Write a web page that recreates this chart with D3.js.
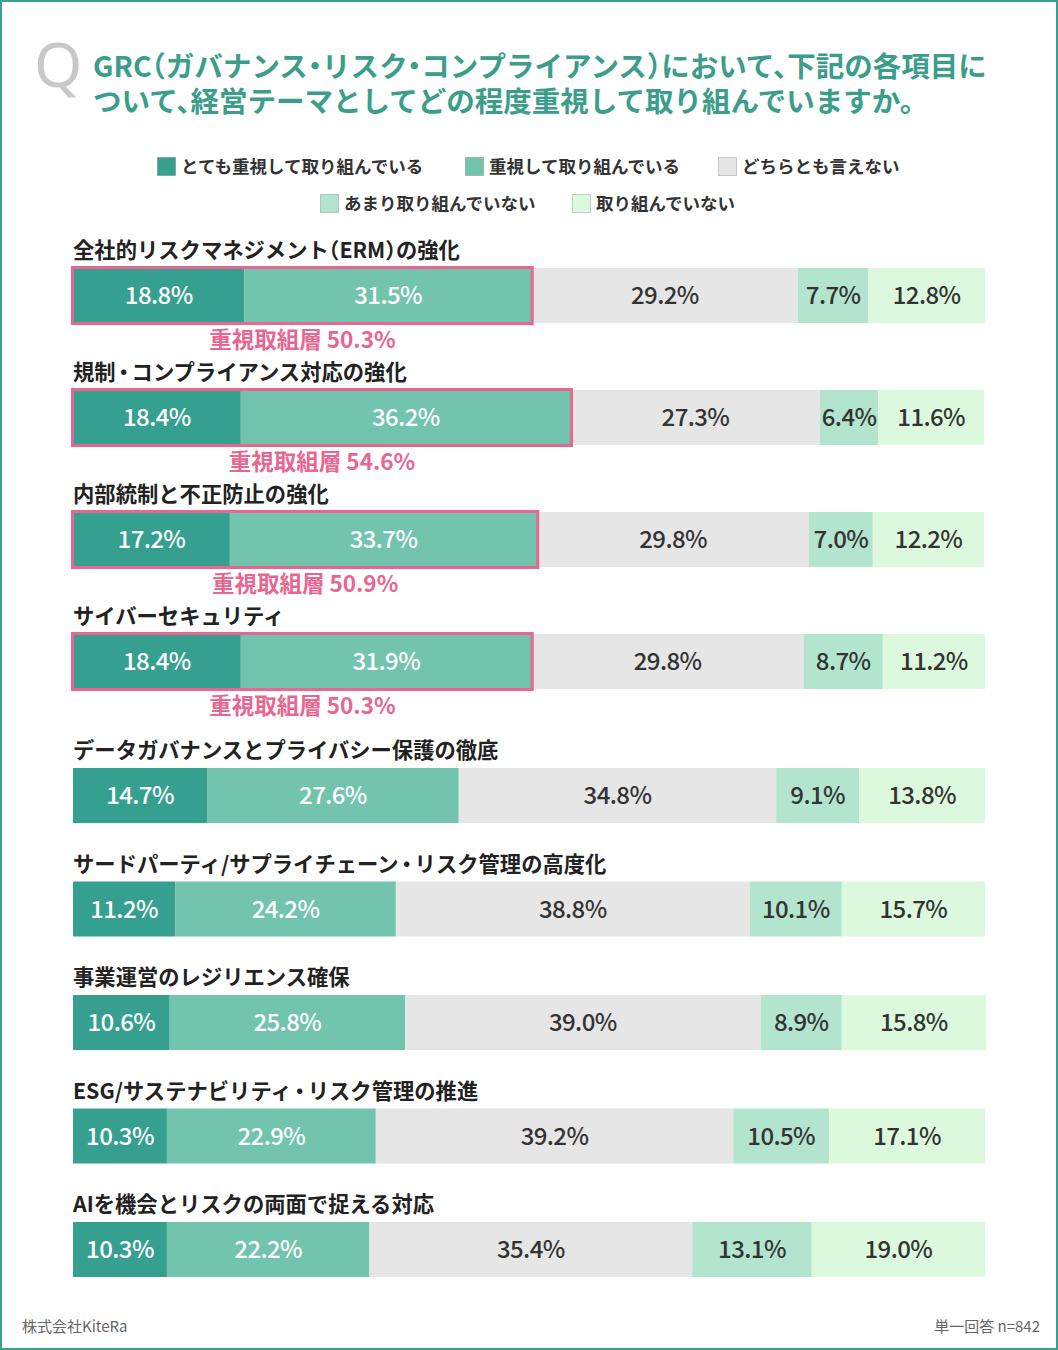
<!DOCTYPE html>
<html><head><meta charset="utf-8">
<script src="https://cdn.jsdelivr.net/npm/d3@7"></script>
<style>
html,body{margin:0;padding:0;background:#fff;}
svg{display:block;}
</style></head>
<body>
<svg id="chart" width="1058" height="1350"></svg>
<script>
const titleLines = ["GRC（ガバナンス・リスク・コンプライアンス）において、下記の各項目に","ついて、経営テーマとしてどの程度重視して取り組んでいますか。"];
const seriesNames = ["とても重視して取り組んでいる","重視して取り組んでいる","どちらとも言えない","あまり取り組んでいない","取り組んでいない"];
const categories = [
 "全社的リスクマネジメント（ERM）の強化",
 "規制・コンプライアンス対応の強化",
 "内部統制と不正防止の強化",
 "サイバーセキュリティ",
 "データガバナンスとプライバシー保護の徹底",
 "サードパーティ/サプライチェーン・リスク管理の高度化",
 "事業運営のレジリエンス確保",
 "ESG/サステナビリティ・リスク管理の推進",
 "AIを機会とリスクの両面で捉える対応"
];
const veryImportant = [18.8,18.4,17.2,18.4,14.7,11.2,10.6,10.3,10.3];
const important     = [31.5,36.2,33.7,31.9,27.6,24.2,25.8,22.9,22.2];
const neutral       = [29.2,27.3,29.8,29.8,34.8,38.8,39.0,39.2,35.4];
const notMuch       = [7.7,6.4,7.0,8.7,9.1,10.1,8.9,10.5,13.1];
const notAtAll      = [12.8,11.6,12.2,11.2,13.8,15.7,15.8,17.1,19.0];
const highlightTotals = [50.3,54.6,50.9,50.3,null,null,null,null,null];
const highlightLabel = "重視取組層";
const footerLeft = "株式会社KiteRa";
const footerRight = "単一回答 n=842";

const series = [veryImportant, important, neutral, notMuch, notAtAll];
const colors = ["#35a08f","#72c4ad","#e6e6e6","#b3e4cd","#dcf9dd"];
const textColors = ["#ffffff","#ffffff","#333333","#333333","#333333"];
const JP = "'Noto Sans CJK JP','Noto Sans',sans-serif";

// proportional spacing for full-width punctuation, done with per-character dx (no tspans)
function punctDx(str, size, dotTrim){
  const chars = Array.from(str);
  const dx = chars.map(()=>0);
  chars.forEach((ch,i)=>{
    if(ch==="（") dx[i] -= 0.5*size;
    if(ch==="・"){ dx[i] -= dotTrim/2*size; if(i+1<dx.length) dx[i+1] -= dotTrim/2*size; }
    if("）、。".includes(ch) && i+1<dx.length) dx[i+1] -= 0.5*size;
  });
  return dx.map(v=>v.toFixed(2)).join(" ");
}

const svg = d3.select("#chart");
// frame
svg.append("rect").attr("x",1).attr("y",1).attr("width",1056).attr("height",1348)
  .attr("fill","#fff").attr("stroke","#3aa08c").attr("stroke-width",2);

// Q mark
svg.append("text").attr("x",34).attr("y",87).text("Q")
  .attr("font-family","'Noto Sans',sans-serif").attr("font-size",62).attr("font-weight",400)
  .attr("fill","#c8c8c8");
// title
const titleSize = 28.5;
titleLines.forEach((t,i)=>{
  svg.append("text").attr("x",93).attr("y",77+i*35).text(t)
    .attr("dx",punctDx(t,titleSize,0.5))
    .attr("font-family",JP).attr("font-size",titleSize).attr("font-weight",700)
    .attr("fill","#3a9e8a");
});

// legend
const legendRows = [[0,1,2],[3,4]];
const legendX = [[157,465,718],[320,572]];
const legendY = [157,194];
legendRows.forEach((row,ri)=>{
  row.forEach((si,k)=>{
    const g = svg.append("g").attr("transform",`translate(${legendX[ri][k]},${legendY[ri]})`);
    g.append("rect").attr("x",0.5).attr("y",0.5).attr("width",18).attr("height",18)
      .attr("fill",colors[si]).attr("stroke","rgba(0,0,0,0.18)").attr("stroke-width",1);
    g.append("text").attr("x",24).attr("y",16).text(seriesNames[si])
      .attr("font-family",JP).attr("font-size",17.5).attr("font-weight",700).attr("fill","#333");
  });
});

// layout
const x = d3.scaleLinear().domain([0,100]).range([73,985]);
const barH = 55;
const rowY = [];
let yy = 268;
categories.forEach((c,i)=>{
  rowY.push(yy);
  const hl = highlightTotals[i]!=null, nextHl = highlightTotals[i+1]!=null;
  yy += hl ? (nextHl ? 122 : 134) : 113.5;
});

const labelSize = 21.3;
categories.forEach((cat,i)=>{
  const y0 = rowY[i];
  svg.append("text").attr("x",73).attr("y",y0-10).text(cat)
    .attr("dx",punctDx(cat,labelSize,0.25))
    .attr("font-family",JP).attr("font-size",labelSize).attr("font-weight",700).attr("fill","#222");
  let cum = 0;
  const segs = series.map((s,si)=>{ const o={si,start:cum,v:s[i]}; cum+=s[i]; return o; });
  const g = svg.append("g");
  g.selectAll("rect").data(segs).join("rect")
    .attr("x",d=>x(d.start)).attr("y",y0)
    .attr("width",d=>x(d.start+d.v)-x(d.start)).attr("height",barH)
    .attr("fill",d=>colors[d.si]);
  g.selectAll("text").data(segs).join("text")
    .attr("x",d=>(x(d.start)+x(d.start+d.v))/2).attr("y",y0+barH/2+8.5)
    .attr("text-anchor","middle").text(d=>d.v.toFixed(1)+"%")
    .attr("font-family",JP).attr("font-size",24).attr("font-weight",500)
    .attr("letter-spacing",-0.6)
    .attr("fill",d=>textColors[d.si]);
  if(highlightTotals[i]!=null){
    const x0 = x(0), x1 = x(veryImportant[i]+important[i]);
    svg.append("rect").attr("x",x0-0.5).attr("y",y0-0.5).attr("width",x1-x0+1).attr("height",barH+1)
      .attr("fill","none").attr("stroke","#e8668f").attr("stroke-width",3);
    svg.append("text").attr("x",(x0+x1)/2).attr("y",y0+barH+25).attr("text-anchor","middle")
      .text(highlightLabel+" "+highlightTotals[i].toFixed(1)+"%")
      .attr("font-family",JP).attr("font-size",22.5).attr("font-weight",700).attr("fill","#e8668f");
  }
});

// footer
svg.append("text").attr("x",22).attr("y",1332).text(footerLeft)
  .attr("font-family",JP).attr("font-size",15).attr("fill","#666");
svg.append("text").attr("x",1040).attr("y",1332).attr("text-anchor","end").text(footerRight)
  .attr("font-family",JP).attr("font-size",15).attr("fill","#666");
</script>
</body></html>
